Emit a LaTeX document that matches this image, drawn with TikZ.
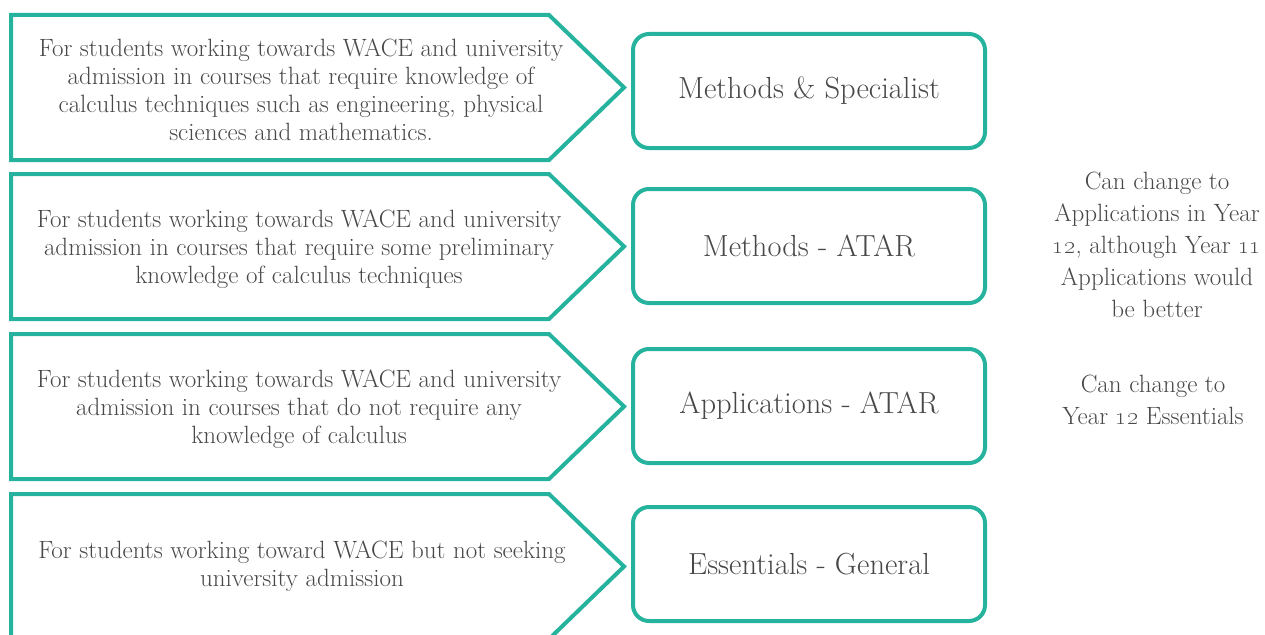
\documentclass[tikz,border=0pt]{standalone}
\usepackage{tikz}

\definecolor{tealline}{RGB}{38,179,157}
\definecolor{txtgray}{RGB}{72,72,72}

\tikzset{
  chevron/.style={draw=tealline, line width=4pt, line join=miter},
  course/.style={draw=tealline, line width=4pt, rounded corners=16pt,
    minimum width=352pt, minimum height=114pt, text=txtgray,
    font=\fontsize{30.5}{34}\selectfont},
  reason/.style={text=txtgray, align=center, font=\fontsize{25}{28}\selectfont},
  note/.style={text=txtgray, align=center, font=\fontsize{25}{32}\selectfont}
}

\begin{document}
\begin{tikzpicture}[x=1pt,y=-1pt]
\useasboundingbox (0,0) rectangle (1265,634);
\clip (0,0) rectangle (1265,634);

% Arrow-shaped panels
\foreach \t in {15,174,334,494}
  \draw[chevron] (11,\t) -- (549,\t) -- (624,\t+72.5) -- (549,\t+145) -- (11,\t+145) -- cycle;

% Descriptions
\node[reason] (reasonA) at (301,90) {For students working towards WACE and university\\
  admission in courses that require knowledge of\\
  calculus techniques such as engineering, physical\\
  sciences and mathematics.};
\node[reason] (reasonB) at (299,249) {For students working towards WACE and university\\
  admission in courses that require some preliminary\\
  knowledge of calculus techniques};
\node[reason] (reasonC) at (299,409) {For students working towards WACE and university\\
  admission in courses that do not require any\\
  knowledge of calculus};
\node[reason] (reasonD) at (302,566) {For students working toward WACE but not seeking\\
  university admission};

% Courses
\node[course] (ms) at (809,91) {Methods \& Specialist};
\node[course] (methods) at (809,246) {Methods - ATAR};
\node[course] (apps) at (809,406) {Applications - ATAR};
\node[course] (essentials) at (809,564) {Essentials - General};

% Notes on changing course
\node[note] (noteA) at (1157,245) {Can change to\\
  Applications in Year\\
  \oldstylenums{12}, although Year \oldstylenums{11}\\
  Applications would\\
  be better};
\node[note] (noteB) at (1153,400) {Can change to\\
  Year \oldstylenums{12} Essentials};
\end{tikzpicture}
\end{document}
